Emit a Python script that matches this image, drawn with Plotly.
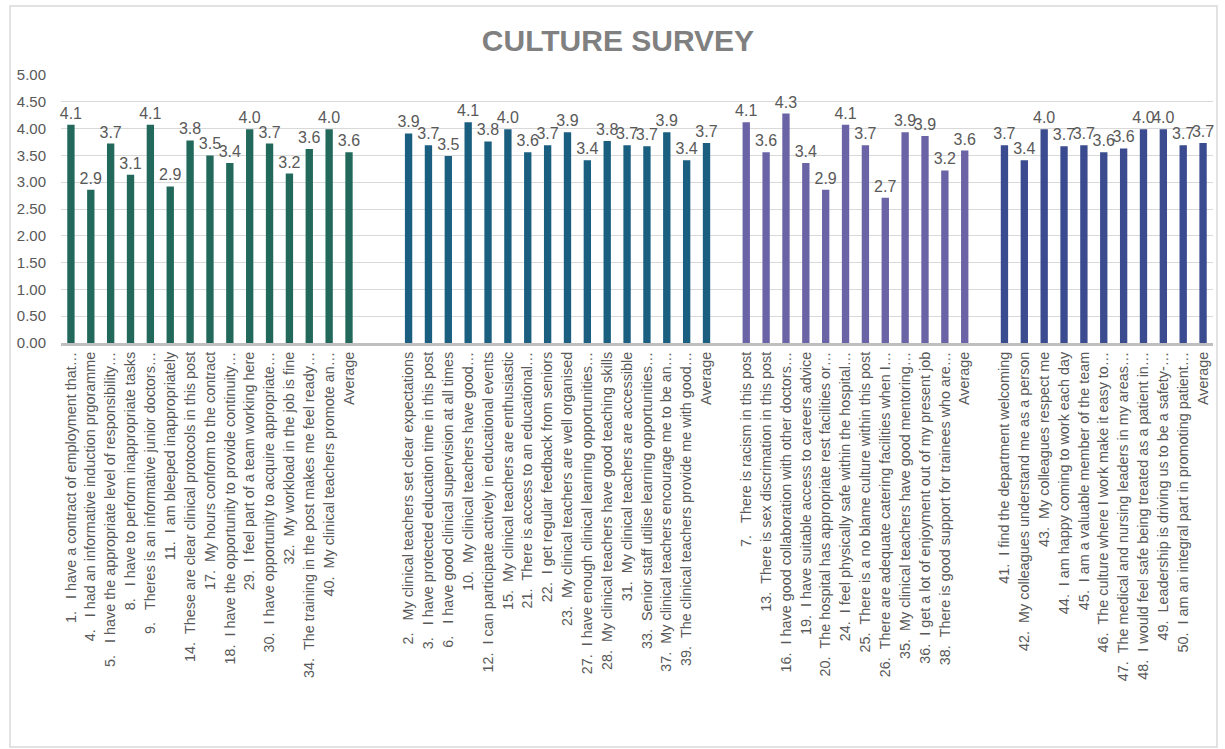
import plotly.graph_objects as go

NB = "\u00a0"

def lab(num, text):
    pad = NB * 3 if num < 10 else NB * 2
    return f"{num}.{pad}{text}"

# ---------------- data ----------------
g1_labels = [
    lab(1, "I have a contract of employment that…"),
    lab(4, "I had an informative induction prgoramme"),
    lab(5, "I have the appropriate level of responsibility…"),
    lab(8, "I have to perform inappropriate tasks"),
    lab(9, "Theres is an informative junior doctors…"),
    lab(11, "I am bleeped inappropriately"),
    lab(14, "These are clear clinical protocols in this post"),
    lab(17, "My hours conform to the contract"),
    lab(18, "I have the opportunity to provide continuity…"),
    lab(29, "I feel part of a team working here"),
    lab(30, "I have opportunity to acquire appropriate…"),
    lab(32, "My workload in the job is fine"),
    lab(34, "The training in the post makes me feel ready…"),
    lab(40, "My clinical teachers promote an…"),
    "Average",
]
g1_values = [4.07, 2.86, 3.72, 3.14, 4.07, 2.92, 3.78, 3.50, 3.36, 3.99, 3.72, 3.16, 3.62, 3.99, 3.56]

g2_labels = [
    lab(2, "My clinical teachers set clear expectations"),
    lab(3, "I have protected education time in this post"),
    lab(6, "I have good clinical supervision at all times"),
    lab(10, "My clinical teachers have good…"),
    lab(12, "I can participate actively in educational events"),
    lab(15, "My clinical teachers are enthusiastic"),
    lab(21, "There is access to an educational…"),
    lab(22, "I get regular feedback from seniors"),
    lab(23, "My clinical teachers are well organised"),
    lab(27, "I have enough clinical learning opportunities…"),
    lab(28, "My clinical teachers have good teaching skills"),
    lab(31, "My clinical teachers are accessible"),
    lab(33, "Senior staff utilise learning opportunities…"),
    lab(37, "My clinical teachers encourage me to be an…"),
    lab(39, "The clinical teachers provide me with good…"),
    "Average",
]
g2_values = [3.91, 3.69, 3.49, 4.12, 3.76, 3.99, 3.56, 3.69, 3.93, 3.41, 3.77, 3.69, 3.67, 3.93, 3.41, 3.73]

g3_labels = [
    lab(7, "There is racism in this post"),
    lab(13, "There is sex discrimation in this post"),
    lab(16, "I have good collaboration with other doctors…"),
    lab(19, "I have suitable access to careers advice"),
    lab(20, "The hospital has appropriate rest facilities or…"),
    lab(24, "I feel physically safe within the hospital…"),
    lab(25, "There is a no blame culture within this post"),
    lab(26, "There are adequate catering facilities when I…"),
    lab(35, "My clinical teachers have good mentoring…"),
    lab(36, "I get a lot of enjoyment out of my present job"),
    lab(38, "There is good support for trainees who are…"),
    "Average",
]
g3_values = [4.12, 3.56, 4.28, 3.36, 2.86, 4.07, 3.69, 2.71, 3.93, 3.86, 3.22, 3.59]

g4_labels = [
    lab(41, "I find the department welcoming"),
    lab(42, "My colleagues understand me as a person"),
    lab(43, "My colleagues respect me"),
    lab(44, "I am happy coming to work each day"),
    lab(45, "I am a valuable member of the team"),
    lab(46, "The culture where I work make it easy to…"),
    lab(47, "The medical and nursing leaders in my areas…"),
    lab(48, "I would feel safe being treated as a patient in…"),
    lab(49, "Leadership is driving us to be a safety-…"),
    lab(50, "I am an integral part in promoting patient…"),
    "Average",
]
g4_values = [3.69, 3.41, 3.99, 3.67, 3.69, 3.56, 3.63, 3.99, 3.99, 3.69, 3.73]

y_ticks = [0, 0.5, 1, 1.5, 2, 2.5, 3, 3.5, 4, 4.5, 5]

# ---------------- style ----------------
FONT = "Liberation Sans, Arial, sans-serif"
groups = [
    (g1_labels, g1_values, "#23695b"),
    (g2_labels, g2_values, "#1a5f80"),
    (g3_labels, g3_values, "#6a63a6"),
    (g4_labels, g4_values, "#3a4b90"),
]
blank_slots_after = [2, 1, 1, 0]  # empty category slots between groups

W, H = 1225, 749
ML, MR, MT, MB = 61, 12, 75, 406

fig = go.Figure()
tickvals, ticktext = [], []
pos = 0
for (labels, values, color), gap in zip(groups, blank_slots_after):
    xs = list(range(pos, pos + len(labels)))
    fig.add_trace(go.Bar(
        x=xs, y=values, marker=dict(color=color, line=dict(width=0)),
        texttemplate="%{y:.1f}", textposition="outside", constraintext="none",
        cliponaxis=False,
        textfont=dict(family=FONT, size=16, color="#595959"),
        hoverinfo="skip", showlegend=False,
    ))
    tickvals += xs
    ticktext += labels
    pos = xs[-1] + 1 + gap

n_slots = pos

pw = W - ML - MR
ph = H - MT - MB

def px_x(p):
    return (p - ML) / pw

def px_y(p):
    return (H - MB - p) / ph

fig.update_layout(
    width=W, height=H,
    margin=dict(l=ML, r=MR, t=MT, b=MB),
    paper_bgcolor="white", plot_bgcolor="white",
    bargap=0.63,
    title=dict(
        text="<b>CULTURE SURVEY</b>",
        x=618 / W, xanchor="center", y=1 - 40 / H, yanchor="middle",
        font=dict(family=FONT, size=30, color="#808080"),
    ),
    xaxis=dict(
        range=[-0.5, n_slots - 0.5],
        tickmode="array", tickvals=tickvals, ticktext=ticktext,
        tickangle=-90, showgrid=False, zeroline=False,
        showline=True, linecolor="#bfbfbf", linewidth=3,
        ticks="", tickfont=dict(family=FONT, size=14.4, color="#595959"),
        fixedrange=True,
    ),
    yaxis=dict(
        range=[0, 5], tickmode="array", tickvals=y_ticks, tickformat=".2f",
        showgrid=True, gridcolor="#d9d9d9", gridwidth=1,
        zeroline=False, showline=False, ticks="",
        ticklabelstandoff=14,
        tickfont=dict(family=FONT, size=15, color="#595959"),
        fixedrange=True,
    ),
    shapes=[dict(
        type="rect", xref="paper", yref="paper",
        x0=px_x(10), x1=px_x(1217), y0=px_y(747), y1=px_y(6),
        line=dict(color="#d9d9d9", width=1.5), fillcolor="rgba(0,0,0,0)", layer="below",
    )],
)

fig.write_html("out.html")
